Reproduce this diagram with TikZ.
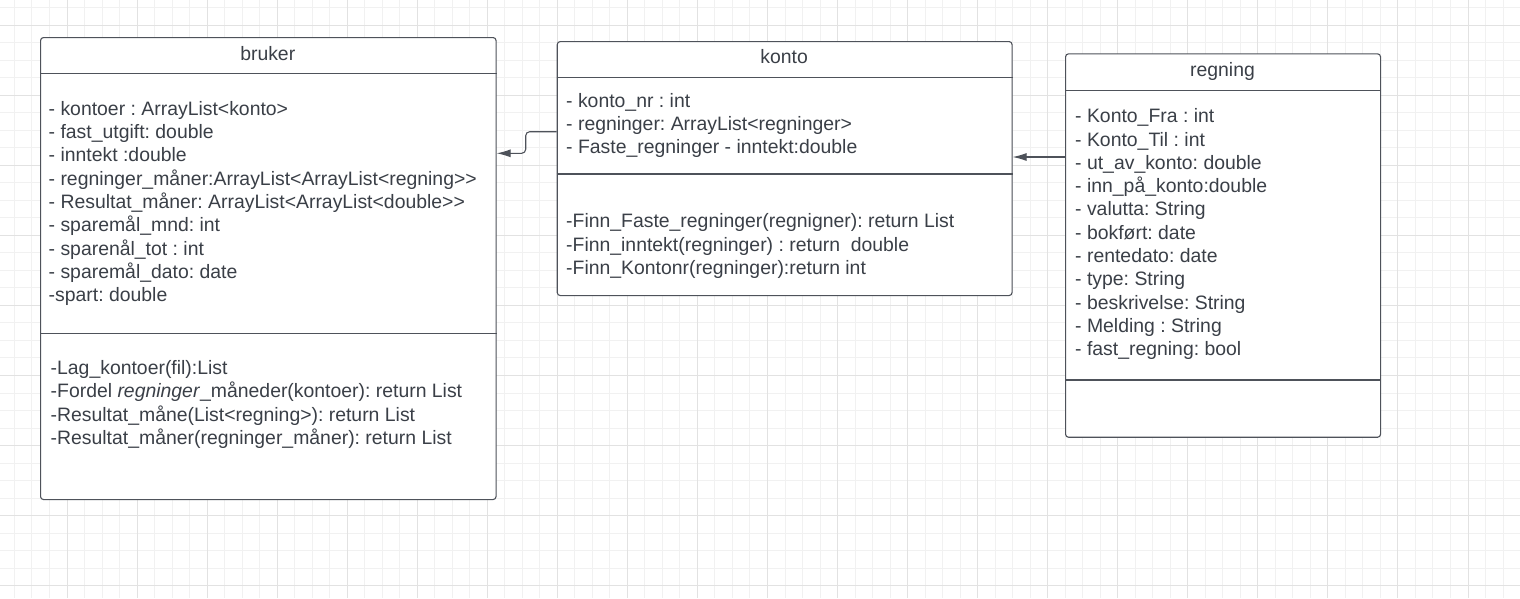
\documentclass[tikz,border=0pt]{standalone}
\usepackage{fontspec}
\setmainfont{Liberation Sans}[Ligatures=TeXOff]
\usetikzlibrary{arrows.meta}
\definecolor{inkc}{RGB}{58,63,71}
\definecolor{framec}{RGB}{78,82,90}
\definecolor{gridlo}{RGB}{241,241,241}
\definecolor{gridhi}{RGB}{226,226,226}
\tikzset{
  classbox/.style={draw=framec, line width=1.1pt, rounded corners=3pt, anchor=north west, inner sep=0pt},
  classrule/.style={draw=framec, line width=1.1pt},
  member/.style={anchor=base west, inner sep=0pt, text=inkc, font=\fontsize{19.4}{23}\selectfont\frenchspacing},
  classname/.style={anchor=base, inner sep=0pt, text=inkc, font=\fontsize{19.4}{23}\selectfont},
  assoc/.style={draw=framec, line width=1.1pt, -{Latex[length=14pt,width=8pt]}, rounded corners=4pt},
}
\begin{document}
\begin{tikzpicture}[x=1pt,y=-1pt]
\useasboundingbox (0,0) rectangle (1520,598);
\fill[white] (0,0) rectangle (1520,598);
\foreach \i in {0,...,87}
	\draw[gridlo, line width=1pt] ({-3.05+\i*17.5125},0) -- ++(0,598);
\foreach \i in {0,...,34}
	\draw[gridlo, line width=1pt] (0,{7.475+\i*17.525}) -- ++(1520,0);
\foreach \i in {0,...,21}
	\draw[gridhi, line width=1pt] ({-3.05+\i*70.05},0) -- ++(0,598);
\foreach \i in {0,...,8}
	\draw[gridhi, line width=1pt] (0,{25+\i*70.1}) -- ++(1520,0);

\node[classbox, fill=white, minimum width=455.5pt, minimum height=462pt] (bruker) at (40,37) {};
\node[classbox, fill=white, minimum width=454.8pt, minimum height=254pt] (konto) at (556.7,41) {};
\node[classbox, fill=white, minimum width=315pt, minimum height=383.4pt] (regning) at (1065,53.3) {};

\draw[classrule] (bruker.west |- 0,73.3) -- (bruker.east |- 0,73.3);
\draw[classrule] (bruker.west |- 0,333.3) -- (bruker.east |- 0,333.3);
\draw[classrule] (konto.west |- 0,77.5) -- (konto.east |- 0,77.5);
\draw[classrule] (konto.west |- 0,174) -- (konto.east |- 0,174);
\draw[classrule] (regning.west |- 0,90.7) -- (regning.east |- 0,90.7);
\draw[classrule] (regning.west |- 0,380) -- (regning.east |- 0,380);

\node[classname] (bruker-name) at (267.75,60) {bruker};
\node[classname] (konto-name) at (784.1,63.3) {konto};
\node[classname] (regning-name) at (1222.5,76) {regning};

\foreach \t [count=\i from 0] in {- kontoer : ArrayList<konto>, - fast\_utgift: double, - inntekt :double, - regninger\_måner:ArrayList<ArrayList<regning>>, - Resultat\_måner: ArrayList<ArrayList<double>>, - sparemål\_mnd: int, - sparenål\_tot : int, - sparemål\_dato: date, -spart: double}
	\node[member] (bruker-a\i) at (48.5,{115+\i*23.35}) {\t};
\foreach \t [count=\i from 0] in {-Lag\_kontoer(fil):List, -Fordel \textit{regninger}\_måneder(kontoer): return List, -Resultat\_måne(List<regning>): return List, -Resultat\_måner(regninger\_måner): return List}
	\node[member] (bruker-m\i) at (50.5,{374.5+\i*23.35}) {\t};

\foreach \t [count=\i from 0] in {- konto\_nr : int, - regninger: ArrayList<regninger>, - Faste\_regninger - inntekt:double}
	\node[member] (konto-a\i) at (566,{107.3+\i*23.3}) {\t};
\foreach \t [count=\i from 0] in {-Finn\_Faste\_regninger(regnigner): return List, -Finn\_inntekt(regninger) : return \ double, -Finn\_Kontonr(regninger):return int}
	\node[member] (konto-m\i) at (566,{227.7+\i*23.3}) {\t};

\foreach \t [count=\i from 0] in {- Konto\_Fra : int, - Konto\_Til : int, - ut\_av\_konto: double, - inn\_på\_konto:double, - valutta: String, - bokført: date, - rentedato: date, - type: String, - beskrivelse: String, - Melding : String, - fast\_regning: bool}
	\node[member] (regning-a\i) at (1075,{122.7+\i*23.3}) {\t};

\draw[assoc] (konto.west |- 0,131.7) -| (525.7,153.3) -- (bruker.east |- 0,153.3);
\draw[assoc] (regning.west |- 0,157) -- (konto.east |- 0,157);
\end{tikzpicture}
\end{document}
